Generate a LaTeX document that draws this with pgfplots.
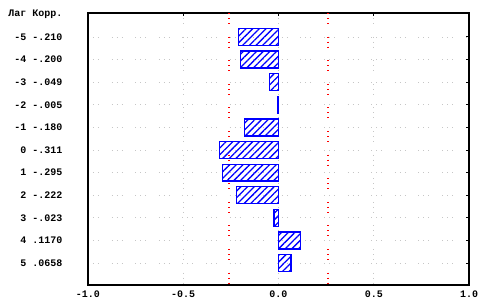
\documentclass[border=0pt]{standalone}
\usepackage{fontspec}
\setmainfont{Liberation Mono}
\setmonofont{Liberation Mono}
\usepackage{pgfplots}
\pgfplotsset{compat=1.18}
\usetikzlibrary{patterns.meta}
\begin{document}
\begin{tikzpicture}
\useasboundingbox (-88bp,-23bp) rectangle (400bp,285bp);
\begin{axis}[
  at={(0,0)}, anchor=south west,
  scale only axis, width=381bp, height=272bp,
  xmin=-1, xmax=1, ymin=-6.06, ymax=5.97, y dir=reverse,
  axis line style={black, line width=1.2bp},
  xtick={-1,-0.5,0,0.5,1},
  xticklabels={-1.0,-0.5,0.0,0.5,1.0},
  ytick={-5,-4,-3,-2,-1,0,1,2,3,4,5},
  yticklabels={-5 -.210,-4 -.200,-3 -.049,-2 -.005,-1 -.180,0 -.311,1 -.295,2 -.222,3 -.023,4 .1170,5 .0658},
  extra y ticks={-6},
  extra y tick labels={Лаг Корр.},
  extra y tick style={major tick length=0pt, grid=none},
  ytick pos=right, yticklabel pos=left,
  xtick pos=right, xticklabel pos=left,
  major tick length=3bp,
  tick style={black, line width=1bp},
  tick label style={font=\fontsize{10bp}{12bp}\selectfont\bfseries},
  yticklabel style={xshift=-22bp},
  xticklabel style={yshift=-2bp},
  grid=major,
  major grid style={gray!45, line width=0.8bp, dash pattern=on 1bp off 4bp on 1bp off 4bp on 1bp off 12.6bp},
  bar width=0.75,
]
\addplot[forget plot, red, line width=1.1bp, dash pattern=on 1bp off 4bp on 1bp off 4bp on 1bp off 12.6bp] coordinates {(-0.26,-6.06) (-0.26,5.97)};
\addplot[forget plot, red, line width=1.1bp, dash pattern=on 1bp off 4bp on 1bp off 4bp on 1bp off 12.6bp] coordinates {(0.26,-6.06) (0.26,5.97)};
\addplot[xbar, draw=blue, line width=1.3bp, pattern={Lines[angle=45,distance=4.7bp,line width=1.3bp]}, pattern color=blue]
coordinates {(-0.210,-5) (-0.200,-4) (-0.049,-3) (-0.005,-2) (-0.180,-1) (-0.311,0) (-0.295,1) (-0.222,2) (-0.023,3) (0.1170,4) (0.0658,5)};
\end{axis}
\end{tikzpicture}
\end{document}
